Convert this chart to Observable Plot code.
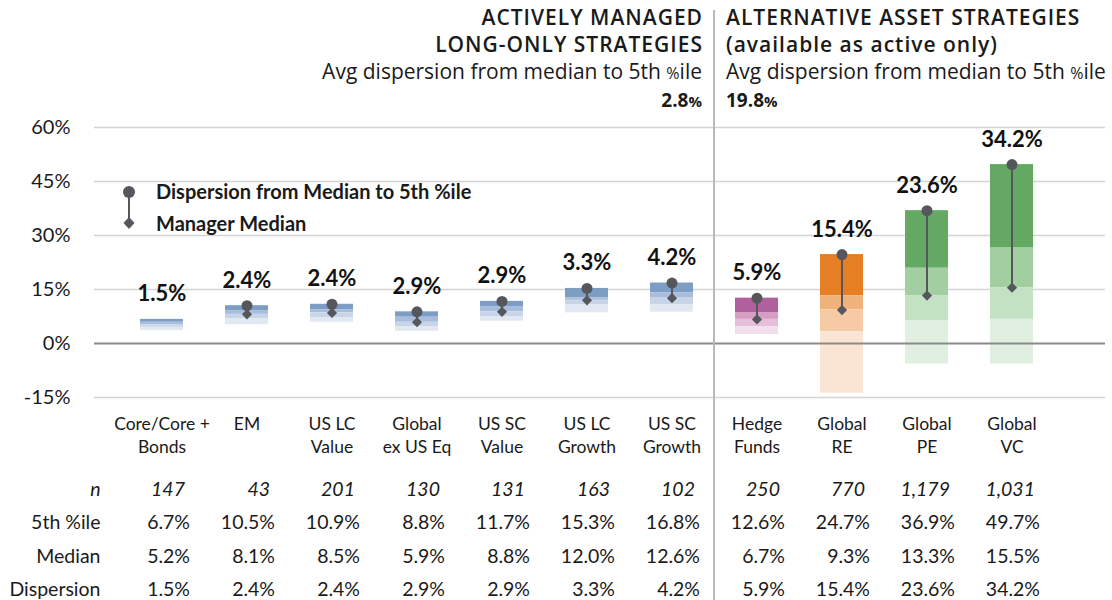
<!DOCTYPE html>
<html>
<head>
<meta charset="utf-8">
<script src="https://cdn.jsdelivr.net/npm/d3@7"></script>
<script src="https://cdn.jsdelivr.net/npm/@observablehq/plot@0.6"></script>
<style>
  html, body { margin: 0; padding: 0; background: #fff; }
  body { width: 1112px; height: 600px; overflow: hidden; font-family: Lato, "Noto Sans", sans-serif; color: #1a1a1a; }
  #wrap { position: relative; width: 1112px; height: 600px; }
  #header { position: relative; height: 110px; }
  .hblock { position: absolute; top: 4px; font-family: "Open Sans", Lato, sans-serif; font-size: 21px; line-height: 27px; white-space: nowrap; }
  .hblock .t { font-weight: 600; letter-spacing: 1px; }
  .hblock .v { font-weight: 700; font-size: 19px; }
  #left { text-align: right; }
  #right { text-align: left; }
  #divider { position: absolute; top: 10px; bottom: 0; width: 2px; background: #b8b8bd; }
  #legend { position: absolute; left: 118px; top: 180px; font-weight: 700; font-size: 20px; }
  #legend div { position: absolute; left: 38px; white-space: nowrap; }
</style>
</head>
<body>
<div id="wrap">
  <div id="header"></div>
  <div id="chart"></div>
</div>
<script>
// ---- data ----
const categories = ["Core/Core +\nBonds", "EM", "US LC\nValue", "Global\nex US Eq", "US SC\nValue", "US LC\nGrowth", "US SC\nGrowth", "Hedge\nFunds", "Global\nRE", "Global\nPE", "Global\nVC"];
const groups = ["trad", "trad", "trad", "trad", "trad", "trad", "trad", "hedge", "re", "pe", "vc"];
const nCount = [147, 43, 201, 130, 131, 163, 102, 250, 770, 1179, 1031];
const pct5 = [6.7, 10.5, 10.9, 8.8, 11.7, 15.3, 16.8, 12.6, 24.7, 36.9, 49.7];
const pct25 = [5.9, 9.0, 9.4, 7.3, 10.1, 12.7, 14.1, 8.6, 13.3, 20.9, 26.5];
const median = [5.2, 8.1, 8.5, 5.9, 8.8, 12.0, 12.6, 6.7, 9.3, 13.3, 15.5];
const pct75 = [4.5, 6.8, 7.2, 4.7, 7.5, 10.7, 10.7, 4.7, 3.3, 6.4, 6.7];
const pct95 = [3.6, 5.2, 5.9, 3.4, 6.2, 8.5, 8.7, 2.5, -13.8, -5.7, -5.7];
const dispersion = [1.5, 2.4, 2.4, 2.9, 2.9, 3.3, 4.2, 5.9, 15.4, 23.6, 34.2];
const yTicks = [-15, 0, 15, 30, 45, 60];
const rowLabels = ["n", "5th %ile", "Median", "Dispersion"];

// ---- styles ----
const palettes = {
  trad:  ["#7d9dc5", "#a8bddb", "#c8d5e8", "#e1e8f2"],
  hedge: ["#b0609a", "#d59dc3", "#e4bfd9", "#f1dfeb"],
  re:    ["#e67f24", "#f0b27b", "#f5caa4", "#fae4d3"],
  pe:    ["#63a963", "#a2cea1", "#c3e1c3", "#e0efe0"],
  vc:    ["#63a963", "#a2cea1", "#c3e1c3", "#e0efe0"]
};
const ink = "#55575c";

const rows = categories.map((c, i) => ({
  cat: c, group: groups[i], n: nCount[i], p5: pct5[i], p25: pct25[i],
  med: median[i], p75: pct75[i], p95: pct95[i], disp: dispersion[i]
}));
const bands = rows.flatMap(r => {
  const edges = [r.p5, r.p25, r.med, r.p75, r.p95];
  return [0, 1, 2, 3].map(k => ({cat: r.cat, y1: edges[k], y2: edges[k + 1], fill: palettes[r.group][k]}));
});
// the smallest strategy carries no dispersion marker in the original
const marked = rows.filter((r, i) => i > 0);

const fmtPct = d => d.toFixed(1) + "%";
const fmtN = d3.format(",");

const TABLE_FONT = 19.5;
const tableRows = [
  {label: rowLabels[0], get: r => fmtN(r.n), dy: 98, italic: true, dx: 23},
  {label: rowLabels[1], get: r => fmtPct(r.p5), dy: 131, dx: 28},
  {label: rowLabels[2], get: r => fmtPct(r.med), dy: 165, dx: 28},
  {label: rowLabels[3], get: r => fmtPct(r.disp), dy: 198, dx: 28}
];

const plot = Plot.plot({
  width: 1112,
  height: 490,
  marginTop: 17,
  marginBottom: 203,
  marginLeft: 94,
  marginRight: 7,
  style: {fontFamily: "Lato, 'Noto Sans', sans-serif", fontSize: "20px", color: "#1a1a1a", background: "transparent", overflow: "visible"},
  x: {domain: categories, range: [115, 1057], paddingInner: 0.5, paddingOuter: 0.25, axis: null},
  y: {domain: [-15, 60], ticks: yTicks, tickFormat: d => d + "%", tickSize: 0, tickPadding: 24, label: null},
  color: {type: "identity"},
  marks: [
    Plot.ruleY(yTicks.filter(d => d !== 0), {stroke: "#d4d4d4", strokeWidth: 1.3}),
    Plot.barY(bands, {x: "cat", y1: "y1", y2: "y2", fill: "fill"}),
    Plot.ruleY([0], {stroke: "#8a8a8a", strokeWidth: 2}),
    Plot.ruleX(marked, {x: "cat", y1: "med", y2: "p5", stroke: ink, strokeWidth: 2}),
    Plot.dot(marked, {x: "cat", y: "p5", r: 5.5, fill: ink, stroke: "none"}),
    Plot.dot(marked, {x: "cat", y: "med", r: 4.6, symbol: "diamond2", fill: ink, stroke: "none"}),
    Plot.text(rows, {x: "cat", y: "p5", text: d => fmtPct(d.disp), dy: -25, fontWeight: 700, fontSize: 22, fill: "#111"}),
    // table: category labels
    Plot.text(rows, {x: "cat", text: "cat", frameAnchor: "bottom", lineAnchor: "top", dy: 17, fontSize: 17.5, lineHeight: 1.27, fill: "#1a1a1a"}),
    // table: values
    ...tableRows.map(t => Plot.text(rows, {x: "cat", text: t.get, frameAnchor: "bottom", textAnchor: "end", dx: t.dx, dy: t.dy, fontSize: TABLE_FONT, fontStyle: t.italic ? "italic" : "normal", fill: "#1a1a1a"})),
    // table: row labels
    ...tableRows.map(t => Plot.text([t.label], {text: d => d, frameAnchor: "bottom-left", textAnchor: "end", dx: 6, dy: t.dy, fontSize: TABLE_FONT, fontStyle: t.italic ? "italic" : "normal", fill: "#1a1a1a"}))
  ]
});
document.getElementById("chart").appendChild(plot);

// ---- header, divider, legend (positioned from the x scale) ----
const xs = plot.scale("x");
const divX = (xs.apply(categories[6]) + xs.bandwidth + xs.apply(categories[7])) / 2;
const avgTrad = d3.mean(rows.filter(r => r.group === "trad"), r => r.disp);
const avgAlt = d3.mean(rows.filter(r => r.group !== "trad"), r => r.disp);

const header = document.getElementById("header");
header.innerHTML = `
  <div class="hblock" id="left" style="right:${1112 - (divX - 12)}px">
    <div class="t" style="margin-right:-1px">ACTIVELY MANAGED</div>
    <div class="t" style="margin-right:-1px">LONG-ONLY STRATEGIES</div>
    <div>Avg dispersion from median to 5th <span style="font-size:16px">%</span>ile</div>
    <div class="v">${avgTrad.toFixed(1)}<span style="font-size:15px">%</span></div>
  </div>
  <div class="hblock" id="right" style="left:${divX + 12}px">
    <div class="t">ALTERNATIVE ASSET STRATEGIES</div>
    <div class="t">(available as active only)</div>
    <div>Avg dispersion from median to 5th <span style="font-size:16px">%</span>ile</div>
    <div class="v">${avgAlt.toFixed(1)}<span style="font-size:15px">%</span></div>
  </div>`;

const wrap = document.getElementById("wrap");
const divider = document.createElement("div");
divider.id = "divider";
divider.style.left = (divX - 1) + "px";
wrap.appendChild(divider);

const legend = document.createElement("div");
legend.id = "legend";
legend.innerHTML = `
  <svg width="24" height="60" style="position:absolute;left:0;top:0;overflow:visible">
    <line x1="11" x2="11" y1="12" y2="43" stroke="${ink}" stroke-width="2"/>
    <circle cx="11" cy="12" r="6" fill="${ink}"/>
    <path d="M11,37 L16.5,43 L11,49 L5.5,43 Z" fill="${ink}"/>
  </svg>
  <div style="top:-1px">Dispersion from Median to 5th %ile</div>
  <div style="top:31px">Manager Median</div>`;
wrap.appendChild(legend);
</script>
</body>
</html>
